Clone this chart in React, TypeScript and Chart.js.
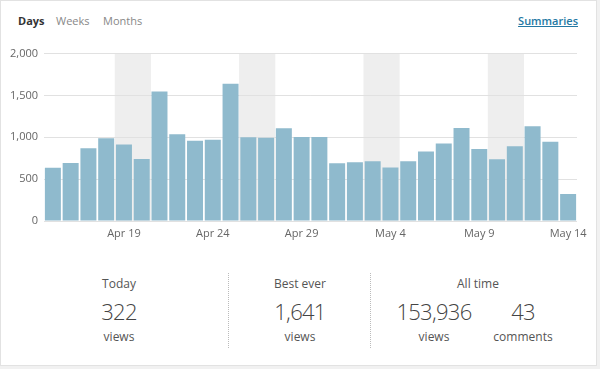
import React, { useEffect, useRef } from 'react';
import { Chart, registerables } from 'chart.js';

Chart.register(...registerables);

const categories = [
  'Apr 15', 'Apr 16', 'Apr 17', 'Apr 18', 'Apr 19', 'Apr 20', 'Apr 21', 'Apr 22', 'Apr 23', 'Apr 24',
  'Apr 25', 'Apr 26', 'Apr 27', 'Apr 28', 'Apr 29', 'Apr 30', 'May 1', 'May 2', 'May 3', 'May 4',
  'May 5', 'May 6', 'May 7', 'May 8', 'May 9', 'May 10', 'May 11', 'May 12', 'May 13', 'May 14',
];
const views = [
  635, 694, 869, 988, 913, 742, 1548, 1036, 960, 972,
  1641, 1000, 996, 1107, 1004, 1004, 690, 702, 714, 639,
  714, 829, 925, 1111, 861, 738, 893, 1131, 948, 322,
];
const weekend = [
  false, false, false, false, true, true, false, false, false, false,
  false, true, true, false, false, false, false, false, true, true,
  false, false, false, false, false, true, true, false, false, false,
];
const yTicks = [0, 500, 1000, 1500, 2000];
const tabs = ['Days', 'Weeks', 'Months'];

const FONT = '"Open Sans", "Noto Sans", sans-serif';

const gridOverShade = {
  id: 'gridOverShade',
  beforeDatasetDraw(chart: any, args: any) {
    if (args.index === 0) chart.scales.y.drawGrid(chart.chartArea);
  },
};

function BarChart() {
  const ref = useRef<HTMLCanvasElement | null>(null);
  useEffect(() => {
    if (!ref.current) return;
    const yMax = yTicks[yTicks.length - 1];
    const chart = new Chart(ref.current, {
      type: 'bar',
      data: {
        labels: categories,
        datasets: [
          {
            label: 'views',
            data: views,
            backgroundColor: '#8fbacd',
            barPercentage: 0.9,
            categoryPercentage: 1,
            grouped: false,
            order: 1,
          },
          {
            label: 'weekend',
            data: weekend.map((w) => (w ? yMax : null)),
            backgroundColor: '#eeeeee',
            barPercentage: 1,
            categoryPercentage: 1,
            grouped: false,
            order: 2,
          },
        ],
      },
      plugins: [gridOverShade],
      options: {
        animation: false,
        responsive: false,
        maintainAspectRatio: false,
        layout: { padding: { top: 12, right: 23, bottom: 8, left: 0 } },
        plugins: { legend: { display: false }, tooltip: { enabled: false } },
        scales: {
          x: {
            grid: { display: false, drawTicks: false },
            border: { display: false },
            ticks: {
              autoSkip: false,
              maxRotation: 0,
              padding: 6,
              color: '#666',
              font: { family: FONT, size: 11 },
              callback: (_v: any, i: number) => (i % 5 === 4 ? categories[i] : ''),
            },
            afterFit: (s: any) => { s.height = 22; },
          },
          y: {
            min: 0,
            max: yMax,
            afterBuildTicks: (s: any) => { s.ticks = yTicks.map((v) => ({ value: v })); },
            grid: { color: '#e1e1e1', drawTicks: false },
            border: { display: false },
            ticks: {
              padding: 6,
              color: '#666',
              font: { family: FONT, size: 11 },
              callback: (v: any) => Number(v).toLocaleString('en-US'),
            },
            afterFit: (s: any) => { s.width = 44; },
          },
        },
      },
    });
    return () => chart.destroy();
  }, []);
  return (
    <canvas
      ref={ref}
      width={600}
      height={210}
      style={{ position: 'absolute', left: 0, top: 41, width: 600, height: 210 }}
    />
  );
}

function Stat(props: { cx: number; label?: string; value: string; unit: string }) {
  const w = 160;
  const base: React.CSSProperties = {
    position: 'absolute',
    left: props.cx - w / 2,
    width: w,
    textAlign: 'center',
    fontFamily: FONT,
  };
  return (
    <>
      {props.label && (
        <div style={{ ...base, top: 276, fontSize: 12, lineHeight: '16px', color: '#555' }}>{props.label}</div>
      )}
      <div
        style={{
          ...base,
          top: 296,
          fontSize: 22,
          lineHeight: '30px',
          letterSpacing: '-0.7px',
          color: '#444',
          fontWeight: 300,
        }}
      >
        {props.value}
      </div>
      <div style={{ ...base, top: 329, fontSize: 12, lineHeight: '16px', color: '#555' }}>{props.unit}</div>
    </>
  );
}

export default function App() {
  return (
    <div
      style={{
        position: 'fixed',
        left: 0,
        top: 0,
        width: 600,
        height: 369,
        background: '#f1f1f1',
        overflow: 'hidden',
      }}
    >
      <div
        style={{
          position: 'absolute',
          left: 0,
          top: 0,
          width: 597,
          height: 366,
          boxSizing: 'border-box',
          border: '1px solid #e2e2e2',
          background: '#fff',
        }}
      />
      {tabs.map((t, i) => (
        <div
          key={t}
          style={{
            position: 'absolute',
            left: [18, 56, 103][i],
            top: 13,
            fontFamily: FONT,
            fontSize: 11,
            lineHeight: '16px',
            fontWeight: i === 0 ? 700 : 400,
            color: i === 0 ? '#333' : '#888',
          }}
        >
          {t}
        </div>
      ))}
      <div
        style={{
          position: 'absolute',
          right: 600 - 578,
          top: 13,
          fontFamily: FONT,
          fontSize: 11,
          lineHeight: '16px',
          fontWeight: 600,
          color: '#2478a3',
          textDecoration: 'underline',
        }}
      >
        Summaries
      </div>
      <BarChart />
      <div style={{ position: 'absolute', left: 228, top: 273, height: 75, borderLeft: '1px dotted #bbb' }} />
      <div style={{ position: 'absolute', left: 370, top: 273, height: 75, borderLeft: '1px dotted #bbb' }} />
      <Stat cx={119} label="Today" value="322" unit="views" />
      <Stat cx={300} label="Best ever" value="1,641" unit="views" />
      <div
        style={{
          position: 'absolute',
          left: 398,
          width: 160,
          top: 276,
          textAlign: 'center',
          fontFamily: FONT,
          fontSize: 12,
          lineHeight: '16px',
          color: '#555',
        }}
      >
        All time
      </div>
      <Stat cx={434} value="153,936" unit="views" />
      <Stat cx={523} value="43" unit="comments" />
    </div>
  );
}
